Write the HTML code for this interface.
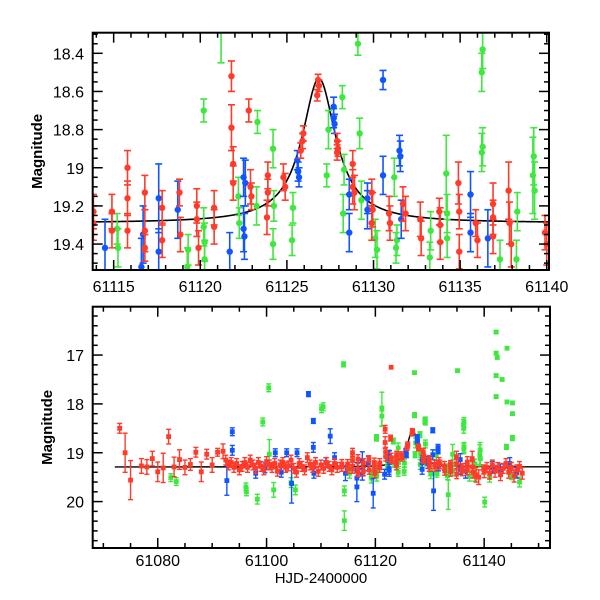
<!DOCTYPE html>
<html><head><meta charset="utf-8"><style>
html,body{margin:0;padding:0;background:#fff}
svg{display:block;font-family:"Liberation Sans",sans-serif}
</style></head><body>
<svg id="chart" width="600" height="600" viewBox="0 0 600 600">
<defs>
<clipPath id="clipTop"><rect x="92.7" y="32.7" width="456.3" height="237.3"/></clipPath>
<clipPath id="clipBot"><rect x="92.7" y="306.7" width="457.3" height="241.3"/></clipPath>
</defs>
<g id="top"></g>
<g id="bot"></g>
</svg>
<script>
// ---- data (t, mag, err) ----
const redT=[61113.83,61113.83,61114.9,61114.9,61115.8,61115.8,61115.8,61116.8,61116.8,61116.8,61117.8,61117.8,61118.8,61118.85,61119.8,61119.8,61119.9,61120.8,61120.8,61121.8,61121.8,61121.9,61121.9,61122.8,61122.9,61122.95,61123.9,61123.85,61123.9,61124.8,61124.9,61125.9,61125.8,61125.95,61126.8,61126.85,61126.75,61127.9,61127.9,61127.95,61128.8,61128.8,61128.9,61129.9,61129.95,61129.9,61130.9,61130.95,61131.7,61131.85,61132.7,61132.75,61133.8,61133.85,61133.85,61134.9,61134.95,61134.95,61135.9,61136.0,61136.9,61136.9,61136.9,61137.8,61137.85,61137.95,61139.9,61140.0];
const redM=[19.23,19.29,19.23,19.33,19.0,19.16,19.33,19.13,19.33,19.42,19.21,19.38,19.13,19.35,19.2,19.27,19.42,19.21,19.31,18.52,18.79,18.98,19.08,18.7,19.1,19.15,19.04,19.26,19.13,19.05,19.1,18.86,18.91,18.82,18.54,18.57,18.62,18.86,18.92,18.9,18.98,19.1,19.13,19.13,19.22,19.29,19.24,19.29,19.19,19.24,19.27,19.37,19.23,19.3,19.39,19.08,19.23,19.44,19.29,19.38,19.19,19.26,19.36,19.12,19.29,19.4,19.34,19.4];
const redE=[.09,.09,.09,.09,.09,.09,.09,.09,.11,.07,.09,.09,.07,.09,.09,.09,.09,.09,.09,.08,.12,.09,.09,.06,.09,.07,.07,.09,.07,.07,.07,.04,.04,.04,.03,.03,.03,.04,.04,.04,.07,.09,.09,.07,.09,.09,.09,.09,.09,.09,.09,.09,.07,.09,.09,.11,.09,.09,.07,.09,.11,.09,.09,.15,.11,.12,.09,.11];
const blueT=[61114.5,61116.6,61116.7,61117.6,61117.6,61118.7,61121.7,61122.5,61122.6,61122.5,61122.55,61125.6,61125.65,61125.7,61127.7,61127.7,61127.75,61128.6,61128.6,61129.65,61129.65,61130.55,61130.55,61131.5,61131.55,61131.6,61135.6,61135.6,61136.6];
const blueM=[19.42,19.52,19.35,19.16,19.44,19.22,19.44,19.05,19.08,19.32,19.36,18.96,19.02,19.05,18.68,18.74,18.77,19.14,19.34,19.16,19.22,18.54,19.04,18.91,18.94,19.27,19.14,19.34,19.37];
const blueE=[.15,.15,.15,.18,.12,.15,.1,.1,.12,.12,.12,.05,.05,.05,.05,.05,.05,.08,.1,.08,.1,.05,.1,.08,.08,.1,.12,.1,.15];
const greenT=[61115.2,61115.25,61120.2,61121.2,61119.3,61119.25,61120.2,61120.25,61120.25,61122.2,61122.25,61123.3,61123.25,61124.2,61124.2,61124.25,61125.3,61125.35,61127.3,61127.4,61128.2,61128.25,61128.3,61129.1,61129.2,61129.3,61131.2,61131.35,61130.1,61130.2,61131.3,61133.3,61133.25,61134.2,61134.25,61134.25,61136.3,61136.25,61136.3,61136.25,61137.3,61138.3,61138.25,61139.2,61139.3,61139.25];
const greenM=[19.32,19.42,18.7,18.25,19.43,19.52,19.31,19.39,19.48,19.15,19.29,18.76,19.2,18.9,19.4,19.2,19.38,19.21,19.04,18.8,18.63,19.24,19.01,18.35,18.82,19.17,19.05,19.38,19.37,19.43,19.42,19.33,19.47,19.03,19.24,19.37,18.38,18.5,18.89,18.92,19.48,19.23,19.48,19.04,19.12,18.94];
const greenE=[.08,.1,.06,.2,.08,.1,.1,.1,.1,.1,.08,.06,.1,.1,.08,.08,.08,.08,.06,.1,.06,.1,.08,.06,.08,.1,.1,.08,.1,.1,.08,.1,.08,.2,.1,.1,.1,.1,.1,.1,.1,.1,.1,.2,.15,.15];
// extra points visible only in the full-range (bottom) panel
const redT2=[61073,61074,61075,61077,61078,61079,61080,61081,61082,61083,61084,61085,61086,61087,61088,61089,61090,61091,61092,61092.5,61093,61093.5,61094,61094.5,61095,61095.5,61096,61096.5,61097,61097.5,61098,61098.5,61099,61099.5,61100,61100.5,61101,61101.5,61102,61102.5,61103,61103.5,61104,61104.5,61105,61105.5,61106,61106.5,61107,61107.5,61108,61108.5,61109,61109.5,61110,61110.5,61111,61111.5,61112,61112.5,61113,61122.9,61138.5,61139,61140.5,61141,61141.5,61142,61142.5,61143,61143.5,61144,61144.5,61145,61145.5,61146,61146.5,61147];
const redM2=[18.5,19.0,19.56,19.27,19.29,19.12,19.39,19.31,18.67,19.29,19.14,19.3,19.24,18.99,19.39,19.03,19.25,18.99,18.97,19.15,19.25,19.2,19.3,19.22,19.35,19.28,19.2,19.3,19.15,19.25,19.32,19.2,19.28,19.35,19.18,19.25,19.3,19.22,19.38,19.25,19.2,19.3,19.27,19.15,19.32,19.4,19.22,19.28,19.35,19.1,19.25,19.3,19.2,19.38,19.25,19.32,19.2,19.28,19.35,19.22,19.3,17.25,19.45,19.5,19.3,19.42,19.25,19.38,19.3,19.45,19.32,19.22,19.4,19.3,19.48,19.35,19.28,19.42];
const redE2=[.1,.4,.4,.15,.15,.15,.2,.3,.15,.2,.2,.15,.12,.1,.2,.1,.15,.08,.15,.1,.1,.1,.1,.1,.1,.1,.1,.1,.1,.1,.1,.1,.1,.1,.1,.1,.1,.1,.1,.1,.1,.1,.1,.1,.1,.1,.1,.1,.1,.1,.1,.1,.1,.1,.1,.1,.1,.1,.1,.1,.1,0,.15,.15,.1,.12,.1,.12,.1,.12,.1,.1,.12,.1,.12,.1,.1,.12];
const blueT2=[61093.7,61093.7,61092.7,61098,61099.7,61101.6,61103.7,61102.7,61104.6,61105.6,61107.7,61108.6,61108.6,61108.7,61111.7,61116.6,61119.6,61130.7,61112.5,61110.9,61141.5,61143,61144.7,61146];
const blueM2=[18.57,18.95,19.57,19.42,19.31,19.0,19.0,19.4,19.63,19.0,17.8,18.35,18.89,19.42,18.66,19.7,19.83,19.78,19.1,19.2,19.3,19.35,19.22,19.4];
const blueE2=[.08,.1,.3,.1,.1,.08,.08,.1,.4,.08,.05,.05,.1,.1,.15,.3,.3,.4,.1,.1,.12,.12,.12,.12];
const greenT2=[61082.4,61083.4,61096.2,61096.3,61098.3,61099.3,61100.4,61100.5,61101.3,61104.5,61105.3,61110.1,61110.4,61114.15,61114.3,61114.3,61120.2,61121.2,61127.2,61127.2,61129.2,61133.4,61135.1,61136.2,61140.1,61141,61142.2,61142.2,61142.4,61142.2,61143.3,61142.2,61144.2,61144.2,61145.2,61145.2,61145.2,61144.1,61145,61146.5];
const greenM2=[19.51,19.59,19.7,19.8,19.95,18.37,17.67,19.03,19.76,19.61,19.76,18.1,18.06,17.19,20.39,19.78,18.69,18.11,17.36,18.23,18.35,19.86,17.32,18.42,20.01,19.5,16.53,16.96,17.05,17.42,17.5,17.85,16.86,17.96,17.98,18.2,18.7,18.88,19.45,19.6];
const greenE2=[.08,.08,.08,.08,.1,.08,.08,.3,.15,.1,.1,.08,.08,.05,.2,.1,.06,.35,.03,.05,.08,.3,.03,.1,.1,.1,.03,.03,.03,.03,.03,.03,.03,.03,.03,.03,.05,.05,.1,.1];
// model curve parameters: baseline mag, peak time, amplitude (flux), width (days)
const modelBase=[19.29];
const modelPeak=[61126.85];
const modelAmp=[1.01];
const modelWidth=[1.0];
// ticks
const topXTicks=[61115,61120,61125,61130,61135,61140];
const topYTicks=[18.4,18.6,18.8,19,19.2,19.4];
const botXTicks=[61080,61100,61120,61140];
const botYTicks=[17,18,19,20];

const NS="http://www.w3.org/2000/svg";
function mk(tag,attrs,parent){const e=document.createElementNS(NS,tag);for(const k in attrs)e.setAttribute(k,attrs[k]);parent.appendChild(e);return e;}
function model(t){const x=(t-modelPeak[0])/modelWidth[0];const A=1+modelAmp[0]/(1+x*x);return modelBase[0]-2.5*Math.log10(A);}
const COL={red:"#ff3b2b",blue:"#1055ff",green:"#3ee83e"};

function panel(g,cfg){
  const {x0,x1,y0,y1,t0,t1,m0,m1,clip}=cfg;
  const sx=t=>x0+(t-t0)/(t1-t0)*(x1-x0);
  const sy=m=>y0+(m-m0)/(m1-m0)*(y1-y0);
  const data=mk('g',{'clip-path':'url(#'+clip+')'},g);
  
  
  let d='';
  const n=600;
  for(let i=0;i<=n;i++){const t=cfg.ct0+(t1-cfg.ct0)*i/n;d+=(i?'L':'M')+sx(t).toFixed(2)+','+sy(model(t)).toFixed(2);}
  const c=mk('path',{d:d,fill:'none',stroke:'#000','stroke-width':cfg.lw},data);
  
  
  const series=[['green',greenT,greenM,greenE,greenT2,greenM2,greenE2],['blue',blueT,blueM,blueE,blueT2,blueM2,blueE2],['red',redT,redM,redE,redT2,redM2,redE2]];
  for(const s of series){
    const sg=mk('g',{},data);
    
    
    const sets=cfg.extra?[[s[1],s[2],s[3]],[s[4],s[5],s[6]]]:[[s[1],s[2],s[3]]];
    for(const [T,M,E] of sets){
      for(let i=0;i<T.length;i++){
        const x=sx(T[i]),y=sy(M[i]),ya=sy(M[i]-E[i]),yb=sy(M[i]+E[i]);
        const col=COL[s[0]];
        if(E[i]>0){
          mk('line',{x1:x,x2:x,y1:ya,y2:yb,stroke:col,'stroke-width':cfg.lw},sg);
          mk('line',{x1:x-cfg.cap,x2:x+cfg.cap,y1:ya,y2:ya,stroke:col,'stroke-width':cfg.lw},sg);
          mk('line',{x1:x-cfg.cap,x2:x+cfg.cap,y1:yb,y2:yb,stroke:col,'stroke-width':cfg.lw},sg);
        }
        let p;
        if(cfg.square) p=mk('rect',{x:x-cfg.r,y:y-cfg.r,width:2*cfg.r,height:2*cfg.r,fill:col},sg);
        else p=mk('circle',{cx:x,cy:y,r:cfg.r,fill:col},sg);
        
        
      }
    }
  }
  const f=mk('rect',{x:x0,y:y0,width:x1-x0,height:y1-y0,fill:'none',stroke:'#000','stroke-width':2},g);
  
  
  const ax=mk('g',{stroke:'#000','stroke-width':1.5},g);
  
  
  for(let t=Math.ceil(t0/cfg.xmin)*cfg.xmin;t<=t1+1e-9;t+=cfg.xmin){
    const x=sx(t);const major=Math.abs(t/cfg.xmaj-Math.round(t/cfg.xmaj))<1e-6;const L=major?10:5;
    mk('line',{x1:x,x2:x,y1:y1,y2:y1-L},ax);mk('line',{x1:x,x2:x,y1:y0,y2:y0+L},ax);
  }
  const ys=Math.ceil(m0/cfg.ymin-1e-6);
  for(let k=ys;k*cfg.ymin<=m1+1e-9;k++){
    const m=k*cfg.ymin;const y=sy(m);const major=Math.abs(m/cfg.ymaj-Math.round(m/cfg.ymaj))<1e-6;const L=major?10:5;
    mk('line',{x1:x0,x2:x0+L,y1:y,y2:y},ax);mk('line',{x1:x1,x2:x1-L,y1:y,y2:y},ax);
  }
  for(const t of cfg.xt){
    const tx=mk('text',{x:sx(t),y:cfg.xly,'text-anchor':'middle','font-size':16},g);tx.textContent=String(t);
    
    
  }
  for(const m of cfg.yt){
    const tx=mk('text',{x:84,y:sy(m)+6,'text-anchor':'end','font-size':16},g);tx.textContent=String(m);
    
    
  }
  const yl=mk('text',{x:0,y:0,'text-anchor':'middle','font-size':15,'font-weight':'bold',transform:'translate('+cfg.ylx+','+((y0+y1)/2)+') rotate(-90)'},g);
  yl.textContent='Magnitude';
  
  
}
panel(document.getElementById('top'),{x0:92.7,x1:549,y0:32.7,y1:270,t0:61113.79,t1:61140.13,m0:18.292,m1:19.536,clip:'clipTop',ct0:61113.79,lw:1.6,cap:3.5,r:3.2,xmin:1,xmaj:5,ymin:0.05,ymaj:0.2,xt:topXTicks,yt:topYTicks,xly:292,ylx:42,extra:false,square:false});
panel(document.getElementById('bot'),{x0:92.7,x1:550,y0:306.7,y1:548,t0:61068.04,t1:61152.1,m0:16.01,m1:20.95,clip:'clipBot',ct0:61072.1,lw:1.4,cap:2.5,r:2.4,xmin:5,xmaj:20,ymin:0.2,ymaj:1,xt:botXTicks,yt:botYTicks,xly:566,ylx:52,extra:true,square:true});
const xl=mk('text',{x:321,y:583,'text-anchor':'middle','font-size':15},document.getElementById('bot'));
xl.textContent='HJD-2400000';


</script>
</body></html>
